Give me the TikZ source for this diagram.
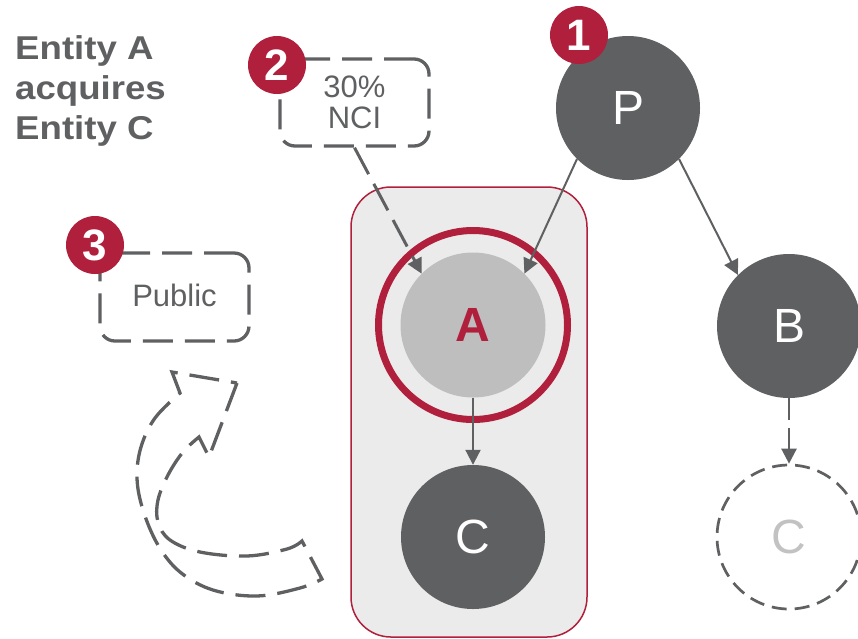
\documentclass[tikz,border=0pt]{standalone}
\usepackage{fontspec}
\setmainfont{Liberation Sans}
\usepackage{graphicx}
\usetikzlibrary{arrows.meta}
\definecolor{dg}{HTML}{5F6062}
\definecolor{rd}{HTML}{B01F3C}
\definecolor{lf}{HTML}{EBEBEB}
\definecolor{ag}{HTML}{BEBEBE}
\definecolor{cg}{HTML}{C2C2C2}
\begin{document}
\begin{tikzpicture}[x=1pt,y=-1pt,
 ent/.style={circle, fill=dg, minimum size=144pt, inner sep=0pt, text=white, font=\fontsize{48}{48}\selectfont},
 badge/.style={circle, fill=rd, minimum size=58pt, inner sep=0pt, text=white, font=\fontsize{44}{44}\selectfont\bfseries},
 dbox/.style={draw=dg, line width=3.3pt, dash pattern=on 30pt off 12pt, rounded corners=15pt, minimum width=149pt, minimum height=87pt, text=dg, align=center, font=\fontsize{31}{31}\selectfont, inner sep=0pt},
 arr/.style={draw=dg, line width=2pt, -{Triangle[length=15pt,width=15pt]}},
 darr/.style={arr, line width=3pt, dash pattern=on 30pt off 11pt},
 sdarr/.style={arr, line width=2.5pt, dash pattern=on 22pt off 8pt},
]
\useasboundingbox (0,0) rectangle (858,638);

% title
\node[anchor=north west, align=left, text=dg, font=\fontsize{33}{40}\selectfont\bfseries, inner sep=0pt] (title) at (15,35)
 {\scalebox{1.11}[1]{Entity A}\\\scalebox{1.11}[1]{acquires}\\\scalebox{1.11}[1]{Entity C}};

% group container
\node[draw=rd, line width=1.5pt, fill=lf, rounded corners=40pt, minimum width=236pt, minimum height=450pt, inner sep=0pt] (grp) at (469,412) {};

% entities
\node[ent] (P) at (628,108) {P};
\node[ent] (B) at (789,326) {B};
\node[ent] (C) at (473,537) {C};
\node[circle, draw=dg, line width=2.7pt, dash pattern=on 15pt off 8pt, minimum size=144pt, inner sep=0pt, text=cg, font=\fontsize{48}{48}\selectfont] (C2) at (789,537) {C};
\node[circle, draw=rd, line width=7pt, minimum size=189pt, inner sep=0pt] (ring) at (473,325) {};
\node[circle, fill=ag, minimum size=145pt, inner sep=0pt, text=rd, font=\fontsize{48}{48}\selectfont\bfseries] (A) at (473,325) {A};

% dashed boxes
\node[dbox] (nci) at (354.5,102.5) {30\%\\NCI};
\node[dbox, minimum height=88pt] (pub) at (174.5,297) {\raisebox{4pt}{Public}};

% connectors
\draw[arr] (P.225) -- (A.45);
\draw[arr] (P.-45) -- (B.135);
\draw[darr] (nci.south) -- (A.135);
\draw[arr] (A.south) -- (C.north);
\draw[sdarr] (B.south) -- (C2.north);

% curved hollow arrow
\draw[dg, line width=3.3pt, dash pattern=on 30pt off 12pt, line join=miter]
 (237,383) -- (209,457) -- (199,437)
 -- plot[smooth, tension=0.6] coordinates {(199,437) (183,452) (168,475) (158,500) (158,522) (170,540) (200,552) (247,556) (287,549) (302,541)}
 -- (322,579)
 -- plot[smooth, tension=0.6] coordinates {(322,579) (300,588) (257,596) (213,590) (180,572) (158,545) (143,510) (137,478) (141,447) (155,418) (180,393)}
 -- (172,372) -- cycle;

% badges
\node[badge] (b1) at (579,35) {1};
\node[badge] (b2) at (277,65) {2};
\node[badge] (b3) at (95,245) {3};
\end{tikzpicture}
\end{document}
